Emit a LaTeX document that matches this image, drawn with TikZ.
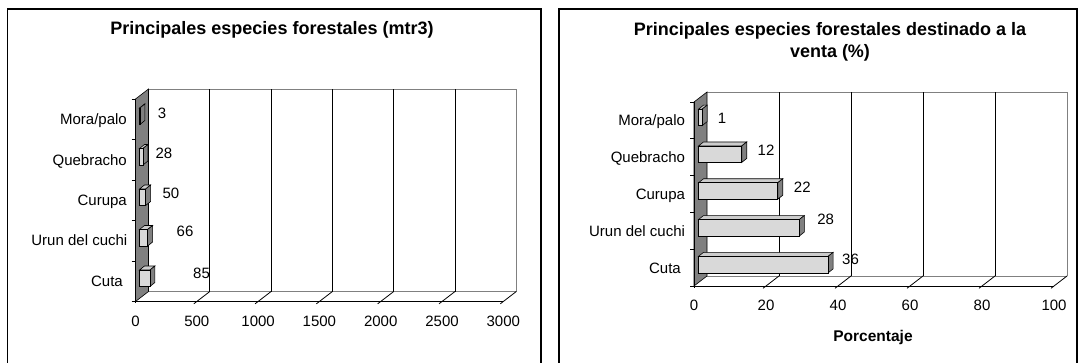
\documentclass[tikz,border=0pt]{standalone}
\usepackage{fontspec}
\setmainfont{Liberation Sans}
\begin{document}
\begin{tikzpicture}[x=1pt,y=-1pt,
  lab/.style={font=\fontsize{15}{17}\selectfont, inner sep=0pt},
  clab/.style={font=\fontsize{15}{17}\selectfont, inner sep=0pt, anchor=base east},
  ttl/.style={font=\fontsize{18}{22}\selectfont\bfseries, inner sep=0pt, align=center},
  axttl/.style={font=\fontsize{15.5}{18}\selectfont\bfseries, inner sep=0pt},
  frame/.style={draw=black, line width=1.3pt},
  wall/.style={fill=black!50, draw=black, line width=0.6pt},
  backline/.style={draw=black!50, line width=1pt},
  grid/.style={draw=black, line width=0.8pt},
  axis/.style={draw=black, line width=0.8pt},
  front/.style={fill=black!15, draw=black, line width=0.6pt},
  top/.style={fill=black!20, draw=black, line width=0.6pt},
  side/.style={fill=black!50, draw=black, line width=0.6pt}]
\useasboundingbox (0,0) rectangle (1084,362);
\clip (0,0) rectangle (1084,362);
\fill[white] (0,0) rectangle (1084,362);
% frames
\draw[frame] (7.6,9) rectangle (541,375);
\draw[frame] (559,9) rectangle (1077,375);

% ================= LEFT CHART =================
\fill[white] (135.5,301.5) -- (503.3,301.5) -- (516.3,291.5) -- (148.5,291.5) -- cycle;
\draw[backline] (148.5,291.5) -- (516.3,291.5);
\draw[backline] (148.5,89) -- (516.3,89) -- (516.3,291.5);
\foreach \k in {1,...,5}
  \draw[grid] ({148.5+61.3*\k},89) -- ({148.5+61.3*\k},291.5);
\foreach \k in {1,...,6}
  \draw[grid] ({135.5+61.3*\k-3},303.8) -- ({148.5+61.3*\k},291.5);
\draw[wall] (135.5,99) -- (148.5,89) -- (148.5,291.5) -- (135.5,301.5) -- cycle;
\draw[axis] (135.5,99) -- (135.5,303);
\draw[axis] (135.5,301.5) -- (503.3,301.5);
\foreach \j in {0,...,5}
  \draw[axis] (131.5,{99+40.5*\j}) -- (135.5,{99+40.5*\j});
\foreach \v [count=\j from 0] in {3,28,50,66,85} {
  \pgfmathsetmacro\yc{99+40.5*(\j+0.5)-3}
  \pgfmathsetmacro\ya{\yc-8.25}
  \pgfmathsetmacro\yb{\yc+8.25}
  \pgfmathsetmacro\xa{139.5}
  \pgfmathsetmacro\xb{139.5+\v*0.1226}
  \draw[top] (\xa,\ya) -- (\xb,\ya) -- ++(5,-4) -- ({\xa+5},{\ya-4}) -- cycle;
  \draw[side] (\xb,\ya) -- (\xb,\yb) -- ++(5,-4) -- ({\xb+5},{\ya-4}) -- cycle;
  \draw[front] (\xa,\ya) rectangle (\xb,\yb);
}
\node[clab] (lm) at (127,124.9) {Mora/palo};
\node[clab] (lq) at (127,165.7) {Quebracho};
\node[clab] (lc) at (127,205.9) {Curupa};
\node[clab] (lu) at (127.5,245.9) {Urun del cuchi};
\node[clab] (lt) at (123,286.7) {Cuta};
\node[lab] (v1) at (162,113) {3};
\node[lab] (v2) at (164,153) {28};
\node[lab] (v3) at (171,193) {50};
\node[lab] (v4) at (185,231) {66};
\node[lab] (v5) at (201.5,273) {85};
\foreach \t [count=\k from 0] in {0,500,1000,1500,2000,2500,3000}
  \node[lab] (lx\k) at ({135.5+61.3*\k},321.5) {\t};
\node[ttl, anchor=base] (lttl) at (272,34.3) {Principales especies forestales (mtr3)};

% ================= RIGHT CHART =================
\fill[white] (694,286) -- (1054,286) -- (1067,276) -- (707,276) -- cycle;
\draw[backline] (707,276) -- (1067,276);
\draw[backline] (707,92) -- (1067,92) -- (1067,276);
\foreach \k in {1,...,4}
  \draw[grid] ({707+72*\k},92) -- ({707+72*\k},276);
\foreach \k in {1,...,5}
  \draw[grid] ({694+72*\k-3},288.3) -- ({707+72*\k},276);
\draw[wall] (694,102) -- (707,92) -- (707,276) -- (694,286) -- cycle;
\draw[axis] (694,102) -- (694,287.5);
\draw[axis] (694,286) -- (1054,286);
\foreach \j in {0,...,5}
  \draw[axis] (690,{102+36.8*\j}) -- (694,{102+36.8*\j});
\foreach \v [count=\j from 0] in {1,12,22,28,36} {
  \pgfmathsetmacro\yc{102+36.8*(\j+0.5)-3}
  \pgfmathsetmacro\ya{\yc-8.25}
  \pgfmathsetmacro\yb{\yc+8.25}
  \pgfmathsetmacro\xa{698.5}
  \pgfmathsetmacro\xb{698.5+\v*3.6}
  \draw[top] (\xa,\ya) -- (\xb,\ya) -- ++(5,-4) -- ({\xa+5},{\ya-4}) -- cycle;
  \draw[side] (\xb,\ya) -- (\xb,\yb) -- ++(5,-4) -- ({\xb+5},{\ya-4}) -- cycle;
  \draw[front] (\xa,\ya) rectangle (\xb,\yb);
}
\node[clab] (rm) at (685.2,125.8) {Mora/palo};
\node[clab] (rq) at (685.2,162.6) {Quebracho};
\node[clab] (rc) at (685.2,199.4) {Curupa};
\node[clab] (ru) at (685.2,236.2) {Urun del cuchi};
\node[clab] (rt) at (681,273) {Cuta};
\node[lab] (w1) at (722,118.3) {1};
\node[lab] (w2) at (766,150.7) {12};
\node[lab] (w3) at (802.3,187.3) {22};
\node[lab] (w4) at (825.7,219.3) {28};
\node[lab] (w5) at (850.5,259.5) {36};
\foreach \t [count=\k from 0] in {0,20,40,60,80,100}
  \node[lab] (rx\k) at ({694+72*\k},305) {\t};
\node[axttl] (rxt) at (873,337.5) {Porcentaje};
\node[ttl] (rttl) at (830,42) {Principales especies forestales destinado a la\\venta (\%)};
\end{tikzpicture}
\end{document}
